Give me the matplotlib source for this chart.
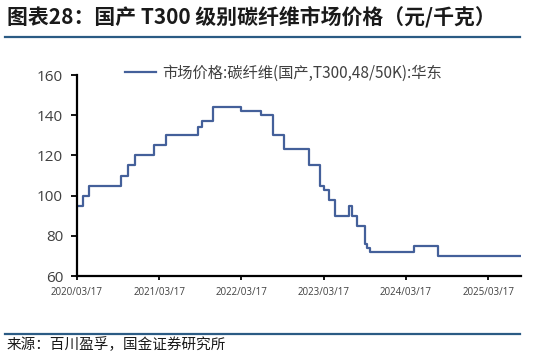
import numpy as np
import pandas as pd
import matplotlib
matplotlib.use("Agg")
import matplotlib.pyplot as plt
import matplotlib.dates as mdates

plt.rcParams['font.family'] = ['Noto Sans CJK SC', 'DejaVu Sans']

# step change dates and prices (yuan/kg)
dates = ["2020-03-17", "2020-04-14", "2020-05-11", "2020-09-28", "2020-10-30",
         "2020-11-30", "2021-02-24", "2021-04-14", "2021-09-04", "2021-09-22",
         "2021-11-11", "2022-03-15", "2022-06-14", "2022-08-04", "2022-09-23",
         "2023-01-11", "2023-03-02", "2023-03-17", "2023-04-09", "2023-05-06",
         "2023-07-10", "2023-07-21", "2023-08-11", "2023-09-16", "2023-09-28",
         "2023-10-09", "2024-04-23", "2024-08-06", "2025-08-10"]
prices = [95, 100, 105, 110, 115,
          120, 125, 130, 134, 137,
          144, 142, 140, 130, 123,
          115, 105, 103, 98, 90,
          95, 90, 85, 76, 74,
          72, 75, 70, 70]

tick_dates = ["2020-03-17", "2021-03-17", "2022-03-17",
              "2023-03-17", "2024-03-17", "2025-03-17"]
series_name = "市场价格:碳纤维(国产,T300,48/50K):华东"
title = "图表28：国产 T300 级别碳纤维市场价格（元/千克）"
source = "来源：百川盈孚，国金证券研究所"

x = pd.to_datetime(dates)
ticks = pd.to_datetime(tick_dates)

fig = plt.figure(figsize=(5.47, 3.56), dpi=100)
ax = fig.add_axes([0.1408, 0.2247, 0.8117, 0.5646])

ax.step(x, prices, where="post", color="#44609a", lw=1.6, label=series_name)

ax.set_ylim(60, 160)
ax.set_yticks(np.arange(60, 161, 20))
ax.set_xlim(x[0], x[-1])
ax.set_xticks(ticks)
ax.xaxis.set_major_formatter(mdates.DateFormatter("%Y/%m/%d"))

for s in ["top", "right"]:
    ax.spines[s].set_visible(False)
for s in ["left", "bottom"]:
    ax.spines[s].set_linewidth(1.6)
    ax.spines[s].set_color("black")

ax.tick_params(axis="y", labelsize=11, colors="black", labelcolor="#404040",
               length=4, width=1.3, pad=6)
ax.tick_params(axis="x", labelsize=7, colors="black", labelcolor="#404040",
               length=3, width=1.3, pad=5)
for lab in ax.get_yticklabels() + ax.get_xticklabels():
    lab.set_fontfamily("Open Sans")

leg = ax.legend(loc="center", bbox_to_anchor=(0.465, 1.01), frameon=False,
                fontsize=11, handlelength=2.0, handletextpad=0.4)
for t in leg.get_texts():
    t.set_color("#404040")

fig.text(0.012, 0.952, title, fontsize=15, fontweight="bold", color="#1a1a1a",
         va="center", ha="left", style="italic")
fig.add_artist(plt.Line2D([0.009, 0.95], [0.896, 0.896], color="#2b5b84", lw=1.6))
fig.add_artist(plt.Line2D([0.009, 0.95], [0.062, 0.062], color="#2b5b84", lw=1.6))
fig.text(0.012, 0.031, source, fontsize=10.5, color="#1a1a1a", va="center", ha="left")

fig.savefig("out.png", dpi=100)
